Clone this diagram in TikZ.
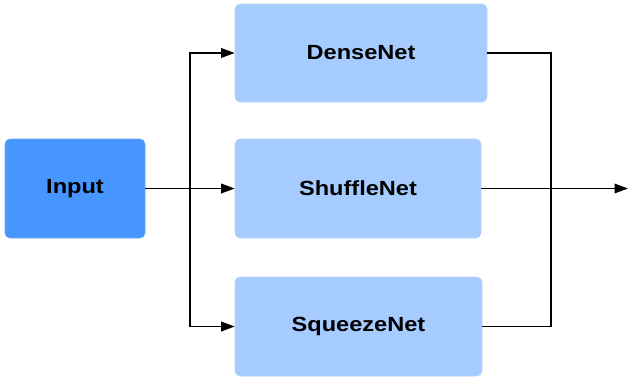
\documentclass[tikz,border=0pt]{standalone}
\usepackage{fontspec}
\setmainfont{Liberation Sans}[FakeStretch=1.15]
\usetikzlibrary{arrows.meta}
\definecolor{inputblue}{HTML}{4796FF}
\definecolor{netblue}{HTML}{A6CCFF}
\definecolor{inputedge}{HTML}{6FA8F0}
\definecolor{netedge}{HTML}{B8D4F8}
\tikzset{
  box/.style={rounded corners=5pt, inner sep=0pt, font=\fontsize{20.5}{24}\selectfont\bfseries, text=black, line width=0.6pt},
  inbox/.style={box, fill=inputblue, draw=inputedge},
  netbox/.style={box, fill=netblue, draw=netedge},
  wire/.style={line width=1.6pt, black},
  flow/.style={wire, line width=1.8pt, -{Triangle[length=13.5pt,width=9.5pt]}}
}
\begin{document}
\begin{tikzpicture}[x=1pt,y=-1pt]
  \useasboundingbox (0,0) rectangle (628,378);
  % blocks
  \node[inbox, minimum width=140pt, minimum height=99pt] (input) at (75,188.5) {Input};
  \node[netbox, minimum width=252pt, minimum height=98pt] (dense) at (361,53) {DenseNet};
  \node[netbox, minimum width=246pt, minimum height=99pt] (shuffle) at (358,188.5) {ShuffleNet};
  \node[netbox, minimum width=247pt, minimum height=99pt] (squeeze) at (358.5,326.5) {SqueezeNet};
  % split and merge points
  \coordinate (split) at (190,188.5);
  \coordinate (merge) at (551,188.5);
  \coordinate (out) at (628,188.5);
  % input fan-out
  \draw[flow] (input.east) -- (shuffle.west);
  \draw[flow] (split) |- (dense.west);
  \draw[flow] (split) |- (squeeze.west);
  % merge of branches
  \draw[wire] (dense.east) -| (merge) |- (squeeze.east);
  \draw[flow] (shuffle.east) -- (out);
\end{tikzpicture}
\end{document}
